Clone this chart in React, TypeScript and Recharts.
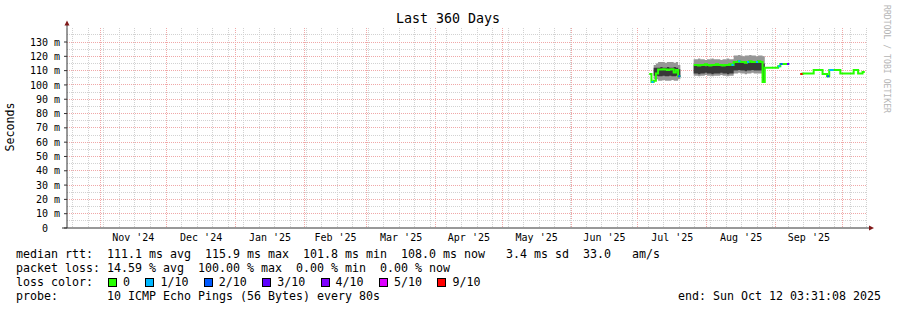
import React from "react";
import { ComposedChart, Area, Line, XAxis, YAxis, CartesianGrid } from "recharts";

const MONO = "'DejaVu Sans Mono', 'Liberation Mono', monospace";

// time axis = days since the window start (360 days before Sun Oct 12 2025 03:31)
const monthStarts = [14.85, 44.85, 75.85, 106.85, 134.85, 165.85, 195.85, 226.85, 256.85, 287.85, 318.85, 348.85];
const monthLabels = ["Nov '24", "Dec '24", "Jan '25", "Feb '25", "Mar '25", "Apr '25", "May '25", "Jun '25", "Jul '25", "Aug '25", "Sep '25"];
const firstWeekLine = 2.56;

const yTicks = [0, 10, 20, 30, 40, 50, 60, 70, 80, 90, 100, 110, 120, 130];

// one value per day, starting at day 262 (ms)
const firstDay = 262;
const N = null;
const median = [
  107.7, 102, 103, 108, 110.7, 110.7, 111, 110.7, 110.5, 110.7, 111, 108.6, 110.5, 106, 106,
  N, N, N, N, N,
  114, 114, 113.5, 114, 114, 114.5, 114, 113.5, 114, 114, 114.5, 114, 114, 113.5, 114, 114, 114.5, 114,
  116, 116, 116.5, 116, 116, 115.5, 116, 116.5, 116, 116, 116, 116.5, 116,
  102,
  112, 112, 112, 112, 112, 112, 113, 114.7, 114.7, 114.7, 114.7, 114.7,
  N, N, N, N,
  107.7, 108, 108, 108, 108, 108, 110.5, 110.5, 110.5, 110.5, 107.7, 107.7, 106, 110.5, 110.5,
  110.5, 110.5, 110.5, 108, 108, 108, 108, 108, 108, 110.5, 110.5, 108, 108, 109, 109,
];
const NONE45 = Array(45).fill(N);
const smokeMin = [
  N, N, 104, 104, 103, 103, 103.5, 103, 103, 103, 103.5, 103, 103, 104, 104,
  N, N, N, N, N,
  106.5, 106.5, 106, 106.5, 106.5, 107, 106.5, 106.5, 106, 106.5, 106.5, 106.5, 107, 106.5, 106.5, 106, 106.5, 106.5,
  108, 108, 108.5, 108, 108, 107.5, 108, 108, 108.5, 108, 108, 108, 108,
  102, 102,
  ...NONE45,
];
const smokeLow = [
  N, N, 106.5, 106.5, 106, 106, 106.5, 106, 106, 106.5, 106, 106, 106.5, 105.5, 105.5,
  N, N, N, N, N,
  108, 108, 107.5, 108, 108, 108.5, 108, 108, 107.5, 108, 108, 108, 108.5, 108, 108, 107.5, 108, 108,
  110, 110, 110.5, 110, 110, 109.5, 110, 110, 110.5, 110, 110, 110, 110,
  103, 103,
  ...NONE45,
];
const smokeHigh = [
  N, N, 112, 112, 112, 112.5, 112, 112, 112.5, 112, 112, 112.5, 112, 111, 111,
  N, N, N, N, N,
  113.5, 113.5, 114, 113.5, 113.5, 113, 113.5, 113.5, 114, 113.5, 113.5, 113.5, 113, 113.5, 113.5, 114, 113.5, 113.5,
  116, 116, 116.5, 116, 116, 115.5, 116, 116, 116.5, 116, 116, 116, 116,
  115, 115,
  ...NONE45,
];
const smokeMax = [
  N, N, 114, 115, 116, 116, 116, 115.5, 116, 116, 116, 115.5, 116, 114, 114,
  N, N, N, N, N,
  118, 118, 118.5, 118, 118, 117.5, 118, 118, 118.5, 118, 118, 118, 117.5, 118, 118, 118.5, 118, 118,
  120.5, 120.5, 121, 120.5, 120, 120.5, 120.5, 121, 120.5, 120.5, 120, 120.5, 120.5,
  120, 120,
  ...NONE45,
];

// days where some pings were lost, and how many (index into lossColors)
const lossDays = [263, 275, 299, 302, 306, 310, 320, 321, 324, 330, 342, 343, 344];
const lossLevel = [1, 2, 1, 1, 1, 1, 1, 2, 3, 6, 2, 1, 1];
const lossColors = ["#26ff00", "#00b8ff", "#0059ff", "#5e00ff", "#7e00ff", "#dd00ff", "#ff0000"];
const lossLabels = ["0", "1/10", "2/10", "3/10", "4/10", "5/10", "9/10"];

const rows: any[] = median.map((m, i) => ({
  day: firstDay + i,
  median: m,
  outer: smokeMin[i] != null ? [smokeMin[i], smokeMax[i]] : null,
  core: smokeLow[i] != null ? [smokeLow[i], smokeHigh[i]] : null,
}));
lossDays.forEach((d, k) => {
  const i = d - firstDay;
  const key = `loss${lossLevel[k]}`;
  rows[i][key] = median[i];
  if (rows[i + 1] && rows[i + 1][key] == null) rows[i + 1][key] = median[i];
});
const usedLevels = Array.from(new Set(lossLevel));

const midMonths = monthLabels.map((_, i) => (monthStarts[i] + monthStarts[i + 1]) / 2);
const weekLines: number[] = [];
for (let d = firstWeekLine; d < 360; d += 7) weekLines.push(d);
const minorY = [5, 15, 25, 35, 45, 55, 65, 75, 85, 95, 105, 115, 125, 135];

const YTick = ({ x, y, payload }: any) => (
  <text x={x} y={y} dy={3.6} dx={payload.value === 0 ? -12 : 0} textAnchor="end"
    fontFamily={MONO} fontSize={10} fill="#000">
    {payload.value === 0 ? "0" : `${payload.value} m`}
  </text>
);

const XTick = ({ x, y, index }: any) => (
  <text x={x} y={y} dy={7.4} textAnchor="middle" fontFamily={MONO} fontSize={10} fill="#000">
    {monthLabels[index] ?? ""}
  </text>
);

const legendRow = (top: number, text: string) => (
  <div style={{ position: "absolute", left: 16, top, whiteSpace: "pre", lineHeight: "14px" }}>{text}</div>
);

const gridMinor = "#d2d2d2";
const gridMajor = "#f0a8a8";

export default function App() {
  let boxX = 108;
  const lossItems = lossLabels.map((lab, i) => {
    const left = boxX;
    boxX += 15 + lab.length * 7 + 15.4;
    return (
      <React.Fragment key={lab}>
        <span style={{ position: "absolute", left, top: 277.5, width: 9, height: 9,
          boxSizing: "border-box", border: "1px solid #000", background: lossColors[i] }} />
        <span style={{ position: "absolute", left: left + 15, top: 275, lineHeight: "14px" }}>{lab}</span>
      </React.Fragment>
    );
  });

  return (
    <div style={{ position: "absolute", left: 0, top: 0, width: 897, height: 310, background: "#fff",
      fontFamily: MONO, fontSize: 11.63, color: "#000" }}>
      <ComposedChart width={897} height={310} data={rows}
        margin={{ top: 27.7, right: 30, bottom: 62, left: 0 }}>
        <CartesianGrid horizontal={false} verticalValues={weekLines} stroke={gridMinor}
          strokeDasharray="1 1" shapeRendering="crispEdges" />
        <CartesianGrid horizontal={false} verticalValues={monthStarts} stroke={gridMajor}
          strokeDasharray="1 1" shapeRendering="crispEdges" />
        <CartesianGrid vertical={false} horizontalValues={minorY} stroke={gridMinor}
          strokeDasharray="1 1" shapeRendering="crispEdges" />
        <CartesianGrid vertical={false} horizontalValues={yTicks.slice(1)} stroke={gridMajor}
          strokeDasharray="1 1" shapeRendering="crispEdges" />
        <XAxis dataKey="day" type="number" domain={[0, 360]} allowDataOverflow ticks={midMonths}
          height={20} tickLine={false} tickSize={0} tickMargin={6} tick={<XTick />}
          axisLine={{ stroke: "#333" }} interval={0} />
        <YAxis type="number" domain={[0, 140]} ticks={yTicks} width={67} tickSize={3}
          tickMargin={4} tick={<YTick />} axisLine={{ stroke: "#333" }} tickLine={{ stroke: "#333" }}
          interval={0} allowDataOverflow />
        <Area dataKey="outer" type="stepAfter" stroke="none" fill="#969696" fillOpacity={1}
          isAnimationActive={false} connectNulls={false} />
        <Area dataKey="core" type="stepAfter" stroke="none" fill="#383838" fillOpacity={1}
          isAnimationActive={false} connectNulls={false} />
        <Line dataKey="median" type="stepAfter" stroke={lossColors[0]} strokeWidth={2} dot={false}
          isAnimationActive={false} connectNulls={false} />
        {usedLevels.map((lvl) => (
          <Line key={lvl} dataKey={`loss${lvl}`} type="stepAfter" stroke={lossColors[lvl]} strokeWidth={2}
            dot={false} isAnimationActive={false} connectNulls={false} />
        ))}
      </ComposedChart>

      <svg width={897} height={310} style={{ position: "absolute", left: 0, top: 0, pointerEvents: "none" }}>
        <text x={448} y={23} textAnchor="middle" fontFamily={MONO} fontSize={13.3} fill="#000">Last 360 Days</text>
        <text transform="translate(14,127) rotate(-90)" textAnchor="middle" fontFamily={MONO}
          fontSize={11.63} fill="#000">Seconds</text>
        <text transform="translate(883.5,5) rotate(90)" fontFamily={MONO} fontSize={9} fill="#b4b4b4"
          textLength={108} lengthAdjust="spacingAndGlyphs">RRDTOOL / TOBI OETIKER</text>
        <line x1={67} y1={27.7} x2={67} y2={25} stroke="#333" />
        <polygon points="64.5,25.5 69.5,25.5 67,20.5" fill="#801818" />
        <line x1={62} y1={228} x2={67} y2={228} stroke="#333" />
        <line x1={867} y1={228} x2={869} y2={228} stroke="#333" />
        <polygon points="869,225.5 869,230.5 874,228" fill="#801818" />
      </svg>

      {legendRow(247, "median rtt:  111.1 ms avg  115.9 ms max  101.8 ms min  108.0 ms now   3.4 ms sd  33.0   am/s")}
      {legendRow(261, "packet loss: 14.59 % avg  100.00 % max  0.00 % min  0.00 % now")}
      {legendRow(275, "loss color:")}
      {lossItems}
      {legendRow(289, "probe:       10 ICMP Echo Pings (56 Bytes) every 80s")}
      <div style={{ position: "absolute", right: 16, top: 289, whiteSpace: "pre", lineHeight: "14px" }}>
        end: Sun Oct 12 03:31:08 2025
      </div>
    </div>
  );
}
